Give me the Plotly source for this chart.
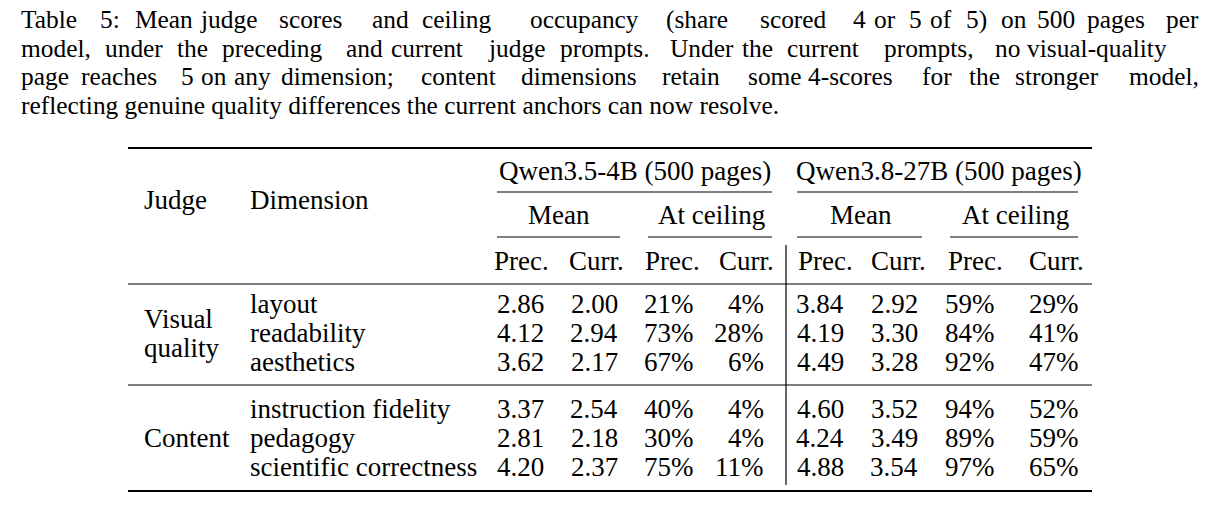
import plotly.graph_objects as go

caption = [
    "Table 5: Mean judge scores and ceiling occupancy (share scored 4 or 5 of 5) on 500 pages per",
    "model, under the preceding and current judge prompts. Under the current prompts, no visual-quality",
    "page reaches 5 on any dimension; content dimensions retain some 4-scores for the stronger model,",
    "reflecting genuine quality differences the current anchors can now resolve.",
]
models = ["Qwen3.5-4B (500 pages)", "Qwen3.8-27B (500 pages)"]
groups = ["Mean", "At ceiling"]
subcols = ["Prec.", "Curr."]
judges = ["Visual\nquality", "Content"]
dimensions = [["layout", "readability", "aesthetics"],
              ["instruction fidelity", "pedagogy", "scientific correctness"]]
values = [
    ["2.86", "2.00", "21%", "4%", "3.84", "2.92", "59%", "29%"],
    ["4.12", "2.94", "73%", "28%", "4.19", "3.30", "84%", "41%"],
    ["3.62", "2.17", "67%", "6%", "4.49", "3.28", "92%", "47%"],
    ["3.37", "2.54", "40%", "4%", "4.60", "3.52", "94%", "52%"],
    ["2.81", "2.18", "30%", "4%", "4.24", "3.49", "89%", "59%"],
    ["4.20", "2.37", "75%", "11%", "4.88", "3.54", "97%", "65%"],
]

F = "Liberation Serif"
O = 8  # page offset compensation
fig = go.Figure()
ann = []
shapes = []
def txt(x, y, s, size=27, xa="left"):
    ann.append(dict(x=x - O, y=y - O, text=s, showarrow=False, xanchor=xa, yanchor="middle",
                    font=dict(family=F, size=size, color="black")))
def hline(x0, x1, y, w=1.2):
    shapes.append(dict(type="line", x0=x0 - O, x1=x1 - O, y0=y - O, y1=y - O,
                       line=dict(color="black", width=w)))

def caption_line(y, s, x0, x1, justify):
    words = s.split(" ")
    if not justify:
        txt(x0, y, s, size=25.4)
        return
    # approximate justification: distribute words by character share
    lens = [len(w) for w in words]
    total = sum(lens)
    avail = x1 - x0
    gap = 6.5
    cw = (avail - gap * (len(words) - 1)) / total
    x = x0
    for w, l in zip(words, lens):
        txt(x, y, w, size=25.4)
        x += l * cw + gap

for i, line in enumerate(caption):
    caption_line(19 + i * 28.7, line, 19, 1207, i < 3)

hline(128, 1092, 148, 2.2)
hline(128, 1092, 284, 1.2)
hline(128, 1092, 385, 1.2)
hline(128, 1092, 491, 2.2)
shapes.append(dict(type="line", x0=786 - O, x1=786 - O, y0=245 - O, y1=485 - O,
                   line=dict(color="black", width=1.2)))

txt(635, 171, models[0], xa="center")
txt(939, 171, models[1], xa="center")
hline(497, 772, 192); hline(797, 1078, 192)
gcent = [559, 711, 861, 1015]
gspan = [(497, 620), (648, 772), (797, 922), (950, 1078)]
for k in range(4):
    txt(gcent[k], 215, groups[k % 2], xa="center")
    hline(gspan[k][0], gspan[k][1], 237)
scent = [521, 596, 672, 746, 825, 898, 975, 1056]
for k in range(8):
    txt(scent[k], 261, subcols[k % 2], xa="center")
txt(142, 200, "Judge")
txt(248, 200, "Dimension")

rowy = [304, 333, 362, 409, 438, 467]
vq = judges[0].split("\n")
txt(142, 319, vq[0]); txt(142, 348, vq[1])
txt(142, 438, judges[1])
right = [546, 620, 696, 766, 846, 920, 997, 1081]
for r in range(6):
    txt(248, rowy[r], dimensions[r // 3][r % 3])
    for k in range(8):
        txt(right[k], rowy[r], values[r][k], xa="right")

fig.update_layout(width=1223, height=511, margin=dict(l=0, r=0, t=0, b=0),
                  plot_bgcolor="white", paper_bgcolor="white",
                  xaxis=dict(range=[0, 1223], visible=False, fixedrange=True),
                  yaxis=dict(range=[511, 0], visible=False, fixedrange=True),
                  annotations=ann, shapes=shapes, showlegend=False)
fig.write_html("out.html", config={"displayModeBar": False})
